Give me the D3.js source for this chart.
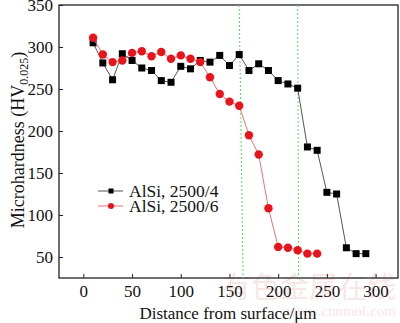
<!DOCTYPE html>
<html>
<head>
<meta charset="utf-8">
<script src="https://cdn.jsdelivr.net/npm/d3@7"></script>
<style>
  html, body { margin: 0; padding: 0; background: #fff; }
  svg text { font-family: "Liberation Serif", "Times New Roman", serif; fill: #111; }
</style>
</head>
<body>
<svg id="chart" width="400" height="323"></svg>
<script>
// distance from surface (um) and hardness, one pair per series
const distA = [10, 20, 30, 40, 50, 60, 70, 80, 90, 100, 110, 120, 130, 140, 150, 160, 170, 180, 190, 200, 210, 220, 230, 240, 250, 260, 270, 280, 290];
const hvA   = [305, 281, 261, 292, 284, 275, 272, 260, 258, 277, 274, 284, 282, 290, 278, 291, 272, 280, 272, 260, 256, 251, 181, 177, 127, 125, 61, 54, 54];
const distB = [10, 20, 30, 40, 50, 60, 70, 80, 90, 100, 110, 120, 130, 140, 150, 160, 170, 180, 190, 200, 210, 220, 230, 240];
const hvB   = [311, 291, 282, 284, 293, 295, 289, 294, 286, 290, 286, 282, 264, 244, 235, 230, 195, 172, 108, 62, 61, 58, 54, 54];
// green guide lines (top and bottom x, they lean a little)
const guides = [[160, 164], [220, 221]];
const xTicks = [0, 50, 100, 150, 200, 250, 300];
const yTicks = [50, 100, 150, 200, 250, 300, 350];
const seriesNames = ["AlSi, 2500/4", "AlSi, 2500/6"];

function drawChart() {
  const svg = d3.select("svg#chart");
  const left = 59, right = 398, top = 5, bottom = 278;

  const x = d3.scaleLinear().domain([-25, 323]).range([left, right]);
  const y = d3.scaleLinear().domain([25, 350]).range([bottom, top]);

  // faint watermark of the source site, kept under everything
  svg.append("text").attr("x", 222).attr("y", 298)
    .attr("font-size", 29).style("font-family", '"Noto Sans CJK SC", sans-serif')
    .style("fill", "#f8e6e6").text("有色金属在线");
  svg.append("text").attr("x", 286).attr("y", 316)
    .attr("font-size", 15).style("fill", "#f8e6e6").text("www.cnnmol.com");

  // frame
  svg.append("rect")
    .attr("x", left).attr("y", top)
    .attr("width", right - left).attr("height", bottom - top)
    .attr("fill", "none").attr("stroke", "#222").attr("stroke-width", 1.3);

  // axes with inward ticks
  const xAxis = svg.append("g")
    .attr("transform", `translate(0,${bottom})`)
    .call(d3.axisBottom(x).tickValues(xTicks).tickSizeInner(-4).tickSizeOuter(0).tickPadding(7));
  const yAxis = svg.append("g")
    .attr("transform", `translate(${left},0)`)
    .call(d3.axisLeft(y).tickValues(yTicks).tickSizeInner(-4).tickSizeOuter(0).tickPadding(6));
  [xAxis, yAxis].forEach(g => {
    g.select(".domain").remove();
    g.selectAll(".tick line").attr("stroke", "#222");
    g.selectAll(".tick text").attr("font-size", 17).style("font-family", '"Liberation Serif", serif').attr("fill", "#111");
  });
  yAxis.selectAll(".tick text").attr("dy", "0.35em");

  // dotted green guides
  svg.selectAll("line.guide")
    .data(guides)
    .enter().append("line")
    .attr("x1", d => x(d[0])).attr("x2", d => x(d[1]))
    .attr("y1", top).attr("y2", bottom)
    .attr("stroke", "#55dd55").attr("stroke-width", 1)
    .attr("stroke-dasharray", "2,2");

  const line = d3.line().x(d => x(d[0])).y(d => y(d[1]));
  const ptsA = distA.map((d, i) => [d, hvA[i]]);
  const ptsB = distB.map((d, i) => [d, hvB[i]]);

  // series A : black squares
  svg.append("path").datum(ptsA).attr("d", line)
    .attr("fill", "none").attr("stroke", "#555").attr("stroke-width", 1);
  svg.selectAll("rect.ptA").data(ptsA).enter().append("rect")
    .attr("x", d => x(d[0]) - 3.5).attr("y", d => y(d[1]) - 3.5)
    .attr("width", 7).attr("height", 7).attr("fill", "#000");

  // series B : red circles
  svg.append("path").datum(ptsB).attr("d", line)
    .attr("fill", "none").attr("stroke", "#f07070").attr("stroke-width", 1);
  svg.selectAll("circle.ptB").data(ptsB).enter().append("circle")
    .attr("cx", d => x(d[0])).attr("cy", d => y(d[1])).attr("r", 4.2)
    .attr("fill", "#e8141c");

  // legend
  const lg = svg.append("g");
  seriesNames.forEach((name, i) => {
    const ly = 191 + i * 15;
    lg.append("line").attr("x1", 98).attr("x2", 123).attr("y1", ly).attr("y2", ly)
      .attr("stroke", i === 0 ? "#555" : "#f07070").attr("stroke-width", 1);
    if (i === 0) {
      lg.append("rect").attr("x", 111 - 2.5).attr("y", ly - 2.5).attr("width", 5).attr("height", 5).attr("fill", "#000");
    } else {
      lg.append("circle").attr("cx", 111).attr("cy", ly).attr("r", 3).attr("fill", "#e8141c");
    }
    lg.append("text").attr("x", 129).attr("y", ly + 5.5)
      .attr("font-size", 17.5).text(name);
  });

  // axis titles
  svg.append("text")
    .attr("x", 228).attr("y", 319)
    .attr("text-anchor", "middle").attr("font-size", 17)
    .text("Distance from surface/\u03bcm");

  const yt = svg.append("text")
    .attr("transform", `translate(24,140) rotate(-90)`)
    .attr("text-anchor", "middle").attr("font-size", 18);
  yt.append("tspan").text("Microhardness (HV");
  yt.append("tspan").attr("font-size", 12).attr("dy", 4).text("0.025");
  yt.append("tspan").attr("dy", -4).text(")");
}

drawChart();
</script>
</body>
</html>
